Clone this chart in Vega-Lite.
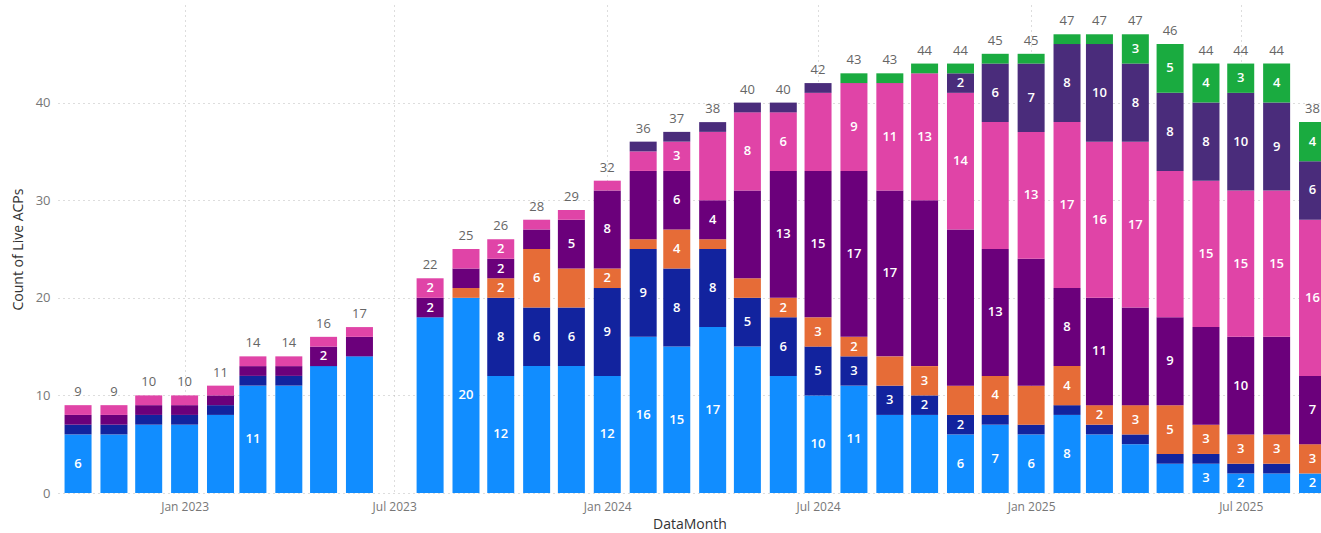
{
  "$schema": "https://vega.github.io/schema/vega-lite/v6.json",
  "width": 1263,
  "height": 488,
  "autosize": {"type": "none"},
  "padding": {"left": 58, "top": 5, "right": 0, "bottom": 40},
  "background": "white",
  "config": {"view": {"stroke": null}, "font": "Open Sans"},
  "data": {"values": [
    {"month":"2022-10-01","series":"Group 1","count":6,"labeled":true},
    {"month":"2022-10-01","series":"Group 2","count":1,"labeled":false},
    {"month":"2022-10-01","series":"Group 4","count":1,"labeled":false},
    {"month":"2022-10-01","series":"Group 5","count":1,"labeled":false},
    {"month":"2022-11-01","series":"Group 1","count":6,"labeled":false},
    {"month":"2022-11-01","series":"Group 2","count":1,"labeled":false},
    {"month":"2022-11-01","series":"Group 4","count":1,"labeled":false},
    {"month":"2022-11-01","series":"Group 5","count":1,"labeled":false},
    {"month":"2022-12-01","series":"Group 1","count":7,"labeled":false},
    {"month":"2022-12-01","series":"Group 2","count":1,"labeled":false},
    {"month":"2022-12-01","series":"Group 4","count":1,"labeled":false},
    {"month":"2022-12-01","series":"Group 5","count":1,"labeled":false},
    {"month":"2023-01-01","series":"Group 1","count":7,"labeled":false},
    {"month":"2023-01-01","series":"Group 2","count":1,"labeled":false},
    {"month":"2023-01-01","series":"Group 4","count":1,"labeled":false},
    {"month":"2023-01-01","series":"Group 5","count":1,"labeled":false},
    {"month":"2023-02-01","series":"Group 1","count":8,"labeled":false},
    {"month":"2023-02-01","series":"Group 2","count":1,"labeled":false},
    {"month":"2023-02-01","series":"Group 4","count":1,"labeled":false},
    {"month":"2023-02-01","series":"Group 5","count":1,"labeled":false},
    {"month":"2023-03-01","series":"Group 1","count":11,"labeled":true},
    {"month":"2023-03-01","series":"Group 2","count":1,"labeled":false},
    {"month":"2023-03-01","series":"Group 4","count":1,"labeled":false},
    {"month":"2023-03-01","series":"Group 5","count":1,"labeled":false},
    {"month":"2023-04-01","series":"Group 1","count":11,"labeled":false},
    {"month":"2023-04-01","series":"Group 2","count":1,"labeled":false},
    {"month":"2023-04-01","series":"Group 4","count":1,"labeled":false},
    {"month":"2023-04-01","series":"Group 5","count":1,"labeled":false},
    {"month":"2023-05-01","series":"Group 1","count":13,"labeled":false},
    {"month":"2023-05-01","series":"Group 4","count":2,"labeled":true},
    {"month":"2023-05-01","series":"Group 5","count":1,"labeled":false},
    {"month":"2023-06-01","series":"Group 1","count":14,"labeled":false},
    {"month":"2023-06-01","series":"Group 4","count":2,"labeled":false},
    {"month":"2023-06-01","series":"Group 5","count":1,"labeled":false},
    {"month":"2023-08-01","series":"Group 1","count":18,"labeled":false},
    {"month":"2023-08-01","series":"Group 4","count":2,"labeled":true},
    {"month":"2023-08-01","series":"Group 5","count":2,"labeled":true},
    {"month":"2023-09-01","series":"Group 1","count":20,"labeled":true},
    {"month":"2023-09-01","series":"Group 3","count":1,"labeled":false},
    {"month":"2023-09-01","series":"Group 4","count":2,"labeled":false},
    {"month":"2023-09-01","series":"Group 5","count":2,"labeled":false},
    {"month":"2023-10-01","series":"Group 1","count":12,"labeled":true},
    {"month":"2023-10-01","series":"Group 2","count":8,"labeled":true},
    {"month":"2023-10-01","series":"Group 3","count":2,"labeled":true},
    {"month":"2023-10-01","series":"Group 4","count":2,"labeled":true},
    {"month":"2023-10-01","series":"Group 5","count":2,"labeled":true},
    {"month":"2023-11-01","series":"Group 1","count":13,"labeled":false},
    {"month":"2023-11-01","series":"Group 2","count":6,"labeled":true},
    {"month":"2023-11-01","series":"Group 3","count":6,"labeled":true},
    {"month":"2023-11-01","series":"Group 4","count":2,"labeled":false},
    {"month":"2023-11-01","series":"Group 5","count":1,"labeled":false},
    {"month":"2023-12-01","series":"Group 1","count":13,"labeled":false},
    {"month":"2023-12-01","series":"Group 2","count":6,"labeled":true},
    {"month":"2023-12-01","series":"Group 3","count":4,"labeled":false},
    {"month":"2023-12-01","series":"Group 4","count":5,"labeled":true},
    {"month":"2023-12-01","series":"Group 5","count":1,"labeled":false},
    {"month":"2024-01-01","series":"Group 1","count":12,"labeled":true},
    {"month":"2024-01-01","series":"Group 2","count":9,"labeled":true},
    {"month":"2024-01-01","series":"Group 3","count":2,"labeled":true},
    {"month":"2024-01-01","series":"Group 4","count":8,"labeled":true},
    {"month":"2024-01-01","series":"Group 5","count":1,"labeled":false},
    {"month":"2024-02-01","series":"Group 1","count":16,"labeled":true},
    {"month":"2024-02-01","series":"Group 2","count":9,"labeled":true},
    {"month":"2024-02-01","series":"Group 3","count":1,"labeled":false},
    {"month":"2024-02-01","series":"Group 4","count":7,"labeled":false},
    {"month":"2024-02-01","series":"Group 5","count":2,"labeled":false},
    {"month":"2024-02-01","series":"Group 6","count":1,"labeled":false},
    {"month":"2024-03-01","series":"Group 1","count":15,"labeled":true},
    {"month":"2024-03-01","series":"Group 2","count":8,"labeled":true},
    {"month":"2024-03-01","series":"Group 3","count":4,"labeled":true},
    {"month":"2024-03-01","series":"Group 4","count":6,"labeled":true},
    {"month":"2024-03-01","series":"Group 5","count":3,"labeled":true},
    {"month":"2024-03-01","series":"Group 6","count":1,"labeled":false},
    {"month":"2024-04-01","series":"Group 1","count":17,"labeled":true},
    {"month":"2024-04-01","series":"Group 2","count":8,"labeled":true},
    {"month":"2024-04-01","series":"Group 3","count":1,"labeled":false},
    {"month":"2024-04-01","series":"Group 4","count":4,"labeled":true},
    {"month":"2024-04-01","series":"Group 5","count":7,"labeled":false},
    {"month":"2024-04-01","series":"Group 6","count":1,"labeled":false},
    {"month":"2024-05-01","series":"Group 1","count":15,"labeled":false},
    {"month":"2024-05-01","series":"Group 2","count":5,"labeled":true},
    {"month":"2024-05-01","series":"Group 3","count":2,"labeled":false},
    {"month":"2024-05-01","series":"Group 4","count":9,"labeled":false},
    {"month":"2024-05-01","series":"Group 5","count":8,"labeled":true},
    {"month":"2024-05-01","series":"Group 6","count":1,"labeled":false},
    {"month":"2024-06-01","series":"Group 1","count":12,"labeled":false},
    {"month":"2024-06-01","series":"Group 2","count":6,"labeled":true},
    {"month":"2024-06-01","series":"Group 3","count":2,"labeled":true},
    {"month":"2024-06-01","series":"Group 4","count":13,"labeled":true},
    {"month":"2024-06-01","series":"Group 5","count":6,"labeled":true},
    {"month":"2024-06-01","series":"Group 6","count":1,"labeled":false},
    {"month":"2024-07-01","series":"Group 1","count":10,"labeled":true},
    {"month":"2024-07-01","series":"Group 2","count":5,"labeled":true},
    {"month":"2024-07-01","series":"Group 3","count":3,"labeled":true},
    {"month":"2024-07-01","series":"Group 4","count":15,"labeled":true},
    {"month":"2024-07-01","series":"Group 5","count":8,"labeled":false},
    {"month":"2024-07-01","series":"Group 6","count":1,"labeled":false},
    {"month":"2024-08-01","series":"Group 1","count":11,"labeled":true},
    {"month":"2024-08-01","series":"Group 2","count":3,"labeled":true},
    {"month":"2024-08-01","series":"Group 3","count":2,"labeled":true},
    {"month":"2024-08-01","series":"Group 4","count":17,"labeled":true},
    {"month":"2024-08-01","series":"Group 5","count":9,"labeled":true},
    {"month":"2024-08-01","series":"Group 7","count":1,"labeled":false},
    {"month":"2024-09-01","series":"Group 1","count":8,"labeled":false},
    {"month":"2024-09-01","series":"Group 2","count":3,"labeled":true},
    {"month":"2024-09-01","series":"Group 3","count":3,"labeled":false},
    {"month":"2024-09-01","series":"Group 4","count":17,"labeled":true},
    {"month":"2024-09-01","series":"Group 5","count":11,"labeled":true},
    {"month":"2024-09-01","series":"Group 7","count":1,"labeled":false},
    {"month":"2024-10-01","series":"Group 1","count":8,"labeled":false},
    {"month":"2024-10-01","series":"Group 2","count":2,"labeled":true},
    {"month":"2024-10-01","series":"Group 3","count":3,"labeled":true},
    {"month":"2024-10-01","series":"Group 4","count":17,"labeled":false},
    {"month":"2024-10-01","series":"Group 5","count":13,"labeled":true},
    {"month":"2024-10-01","series":"Group 7","count":1,"labeled":false},
    {"month":"2024-11-01","series":"Group 1","count":6,"labeled":true},
    {"month":"2024-11-01","series":"Group 2","count":2,"labeled":true},
    {"month":"2024-11-01","series":"Group 3","count":3,"labeled":false},
    {"month":"2024-11-01","series":"Group 4","count":16,"labeled":false},
    {"month":"2024-11-01","series":"Group 5","count":14,"labeled":true},
    {"month":"2024-11-01","series":"Group 6","count":2,"labeled":true},
    {"month":"2024-11-01","series":"Group 7","count":1,"labeled":false},
    {"month":"2024-12-01","series":"Group 1","count":7,"labeled":true},
    {"month":"2024-12-01","series":"Group 2","count":1,"labeled":false},
    {"month":"2024-12-01","series":"Group 3","count":4,"labeled":true},
    {"month":"2024-12-01","series":"Group 4","count":13,"labeled":true},
    {"month":"2024-12-01","series":"Group 5","count":13,"labeled":false},
    {"month":"2024-12-01","series":"Group 6","count":6,"labeled":true},
    {"month":"2024-12-01","series":"Group 7","count":1,"labeled":false},
    {"month":"2025-01-01","series":"Group 1","count":6,"labeled":true},
    {"month":"2025-01-01","series":"Group 2","count":1,"labeled":false},
    {"month":"2025-01-01","series":"Group 3","count":4,"labeled":false},
    {"month":"2025-01-01","series":"Group 4","count":13,"labeled":false},
    {"month":"2025-01-01","series":"Group 5","count":13,"labeled":true},
    {"month":"2025-01-01","series":"Group 6","count":7,"labeled":true},
    {"month":"2025-01-01","series":"Group 7","count":1,"labeled":false},
    {"month":"2025-02-01","series":"Group 1","count":8,"labeled":true},
    {"month":"2025-02-01","series":"Group 2","count":1,"labeled":false},
    {"month":"2025-02-01","series":"Group 3","count":4,"labeled":true},
    {"month":"2025-02-01","series":"Group 4","count":8,"labeled":true},
    {"month":"2025-02-01","series":"Group 5","count":17,"labeled":true},
    {"month":"2025-02-01","series":"Group 6","count":8,"labeled":true},
    {"month":"2025-02-01","series":"Group 7","count":1,"labeled":false},
    {"month":"2025-03-01","series":"Group 1","count":6,"labeled":false},
    {"month":"2025-03-01","series":"Group 2","count":1,"labeled":false},
    {"month":"2025-03-01","series":"Group 3","count":2,"labeled":true},
    {"month":"2025-03-01","series":"Group 4","count":11,"labeled":true},
    {"month":"2025-03-01","series":"Group 5","count":16,"labeled":true},
    {"month":"2025-03-01","series":"Group 6","count":10,"labeled":true},
    {"month":"2025-03-01","series":"Group 7","count":1,"labeled":false},
    {"month":"2025-04-01","series":"Group 1","count":5,"labeled":false},
    {"month":"2025-04-01","series":"Group 2","count":1,"labeled":false},
    {"month":"2025-04-01","series":"Group 3","count":3,"labeled":true},
    {"month":"2025-04-01","series":"Group 4","count":10,"labeled":false},
    {"month":"2025-04-01","series":"Group 5","count":17,"labeled":true},
    {"month":"2025-04-01","series":"Group 6","count":8,"labeled":true},
    {"month":"2025-04-01","series":"Group 7","count":3,"labeled":true},
    {"month":"2025-05-01","series":"Group 1","count":3,"labeled":false},
    {"month":"2025-05-01","series":"Group 2","count":1,"labeled":false},
    {"month":"2025-05-01","series":"Group 3","count":5,"labeled":true},
    {"month":"2025-05-01","series":"Group 4","count":9,"labeled":true},
    {"month":"2025-05-01","series":"Group 5","count":15,"labeled":false},
    {"month":"2025-05-01","series":"Group 6","count":8,"labeled":true},
    {"month":"2025-05-01","series":"Group 7","count":5,"labeled":true},
    {"month":"2025-06-01","series":"Group 1","count":3,"labeled":true},
    {"month":"2025-06-01","series":"Group 2","count":1,"labeled":false},
    {"month":"2025-06-01","series":"Group 3","count":3,"labeled":true},
    {"month":"2025-06-01","series":"Group 4","count":10,"labeled":false},
    {"month":"2025-06-01","series":"Group 5","count":15,"labeled":true},
    {"month":"2025-06-01","series":"Group 6","count":8,"labeled":true},
    {"month":"2025-06-01","series":"Group 7","count":4,"labeled":true},
    {"month":"2025-07-01","series":"Group 1","count":2,"labeled":true},
    {"month":"2025-07-01","series":"Group 2","count":1,"labeled":false},
    {"month":"2025-07-01","series":"Group 3","count":3,"labeled":true},
    {"month":"2025-07-01","series":"Group 4","count":10,"labeled":true},
    {"month":"2025-07-01","series":"Group 5","count":15,"labeled":true},
    {"month":"2025-07-01","series":"Group 6","count":10,"labeled":true},
    {"month":"2025-07-01","series":"Group 7","count":3,"labeled":true},
    {"month":"2025-08-01","series":"Group 1","count":2,"labeled":false},
    {"month":"2025-08-01","series":"Group 2","count":1,"labeled":false},
    {"month":"2025-08-01","series":"Group 3","count":3,"labeled":true},
    {"month":"2025-08-01","series":"Group 4","count":10,"labeled":false},
    {"month":"2025-08-01","series":"Group 5","count":15,"labeled":true},
    {"month":"2025-08-01","series":"Group 6","count":9,"labeled":true},
    {"month":"2025-08-01","series":"Group 7","count":4,"labeled":true},
    {"month":"2025-09-01","series":"Group 1","count":2,"labeled":true},
    {"month":"2025-09-01","series":"Group 3","count":3,"labeled":true},
    {"month":"2025-09-01","series":"Group 4","count":7,"labeled":true},
    {"month":"2025-09-01","series":"Group 5","count":16,"labeled":true},
    {"month":"2025-09-01","series":"Group 6","count":6,"labeled":true},
    {"month":"2025-09-01","series":"Group 7","count":4,"labeled":true}
  ]},
  "encoding": {
    "x": {
      "field": "month",
      "type": "temporal",
      "scale": {"type": "utc", "domain": [
        {"year": 2022, "month": 9, "date": 18, "utc": true},
        {"year": 2025, "month": 9, "date": 4, "utc": true}
      ]},
      "axis": {
        "title": "DataMonth",
        "values": [
          {"year": 2023, "month": 1, "date": 1, "utc": true},
          {"year": 2023, "month": 7, "date": 1, "utc": true},
          {"year": 2024, "month": 1, "date": 1, "utc": true},
          {"year": 2024, "month": 7, "date": 1, "utc": true},
          {"year": 2025, "month": 1, "date": 1, "utc": true},
          {"year": 2025, "month": 7, "date": 1, "utc": true}
        ],
        "labelExpr": "utcFormat(datum.value, '%b %Y')",
        "labelFont": "Open Sans",
        "labelFontSize": 12,
        "labelColor": "#777777",
        "labelPadding": 8,
        "ticks": false,
        "domain": false,
        "grid": true,
        "gridColor": "#BBBBBB",
        "gridDash": [1, 4],
        "gridWidth": 1,
        "titleFont": "Open Sans",
        "titleFontSize": 14,
        "titleFontWeight": "normal",
        "titleColor": "#333333",
        "titlePadding": 5
      }
    }
  },
  "layer": [
    {
      "mark": {"type": "bar", "size": 27},
      "encoding": {
        "y": {
          "field": "count",
          "type": "quantitative",
          "stack": "zero",
          "scale": {"domain": [0, 50], "nice": false},
          "axis": {
            "title": "Count of Live ACPs",
            "values": [0, 10, 20, 30, 40],
            "labelFont": "Open Sans",
            "labelFontSize": 13,
            "labelColor": "#777777",
            "labelPadding": 8,
            "ticks": false,
            "domain": false,
            "grid": true,
            "gridColor": "#BBBBBB",
            "gridDash": [1, 4],
            "gridWidth": 1,
            "titleFont": "Open Sans",
            "titleFontSize": 14,
            "titleFontWeight": "normal",
            "titleColor": "#333333",
            "titlePadding": 10
          }
        },
        "color": {
          "field": "series",
          "type": "nominal",
          "scale": {
            "domain": ["Group 1", "Group 2", "Group 3", "Group 4", "Group 5", "Group 6", "Group 7"],
            "range": ["#118DFF", "#12239E", "#E66C37", "#6B007B", "#E044A7", "#4A2C7B", "#1AAB40"]
          },
          "legend": null
        },
        "order": {"field": "series", "type": "ordinal", "sort": "ascending"}
      }
    },
    {
      "mark": {"type": "text", "baseline": "middle", "align": "center", "font": "Open Sans", "fontSize": 13, "fontWeight": 600, "color": "white"},
      "encoding": {
        "y": {"field": "count", "type": "quantitative", "stack": "zero", "bandPosition": 0.5},
        "detail": {"field": "series", "type": "nominal"},
        "order": {"field": "series", "type": "ordinal", "sort": "ascending"},
        "text": {"field": "count", "type": "quantitative"},
        "opacity": {"condition": {"test": "datum.labeled", "value": 1}, "value": 0}
      }
    },
    {
      "mark": {"type": "text", "baseline": "middle", "align": "center", "dy": -13, "font": "Open Sans", "fontSize": 13, "color": "#666666"},
      "encoding": {
        "y": {"aggregate": "sum", "field": "count", "type": "quantitative"},
        "text": {"aggregate": "sum", "field": "count", "type": "quantitative"}
      }
    }
  ]
}
